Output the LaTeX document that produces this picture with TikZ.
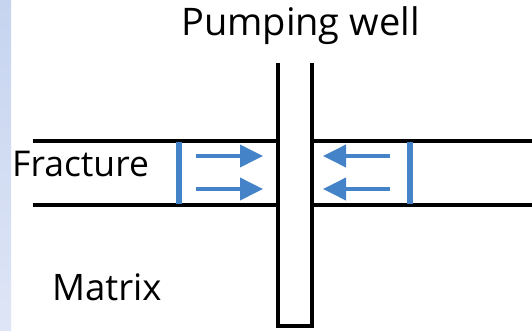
\documentclass[tikz,border=0pt]{standalone}
\usepackage{fontspec}
\setmainfont{Open Sans}
\usetikzlibrary{arrows.meta}
\definecolor{flowblue}{RGB}{68,131,200}
\definecolor{stripA}{RGB}{198,212,239}
\definecolor{stripB}{RGB}{222,229,246}
\tikzset{
  wall/.style={draw=black,line width=3.2pt},
  barstyle/.style={draw=flowblue,line width=6.5pt},
  flow/.style={draw=flowblue,line width=3.8pt,-{Triangle[length=23pt,width=22pt]}},
  lab/.style={inner sep=0pt,anchor=base west}
}
\begin{document}
\begin{tikzpicture}[x=1pt,y=-1pt]
\useasboundingbox (0,0) rectangle (532,330);
\fill[white] (0,0) rectangle (532,330);
\shade[top color=stripA,bottom color=stripB] (0,0) rectangle (11,330);
% fracture lines
\coordinate (ftl) at (33,141);
\coordinate (ftr) at (532,141);
\coordinate (fbl) at (33,205);
\coordinate (fbr) at (532,205);
\draw[wall] (ftl) -- (ftr);
\draw[wall] (fbl) -- (fbr);
% well
\fill[white] (278,60) rectangle (312,326);
\coordinate (wtl) at (278,63);
\coordinate (wbl) at (278,326);
\coordinate (wbr) at (312,326);
\coordinate (wtr) at (312,63);
\draw[wall,line join=miter] (wtl) -- (wbl) -- (wbr) -- (wtr);
% blue bars
\coordinate (lbt) at (179,142);
\coordinate (lbb) at (179,204);
\coordinate (rbt) at (410,142);
\coordinate (rbb) at (410,204);
\draw[barstyle] (lbt) -- (lbb);
\draw[barstyle] (rbt) -- (rbb);
% arrows
\coordinate (a1s) at (196,156); \coordinate (a1e) at (263,156);
\coordinate (a2s) at (196,189); \coordinate (a2e) at (263,189);
\coordinate (a3s) at (390,156); \coordinate (a3e) at (323,156);
\coordinate (a4s) at (390,189); \coordinate (a4e) at (323,189);
\draw[flow] (a1s) -- (a1e);
\draw[flow] (a2s) -- (a2e);
\draw[flow] (a3s) -- (a3e);
\draw[flow] (a4s) -- (a4e);
% labels
\node[lab,font=\fontsize{38}{43}\selectfont] (pw) at (181,35) {Pumping well};
\node[lab,font=\fontsize{35.5}{40}\selectfont] (fr) at (12,176) {Fracture};
\node[lab,font=\fontsize{36.5}{41}\selectfont] (mx) at (52,300) {Matrix};
\end{tikzpicture}
\end{document}
